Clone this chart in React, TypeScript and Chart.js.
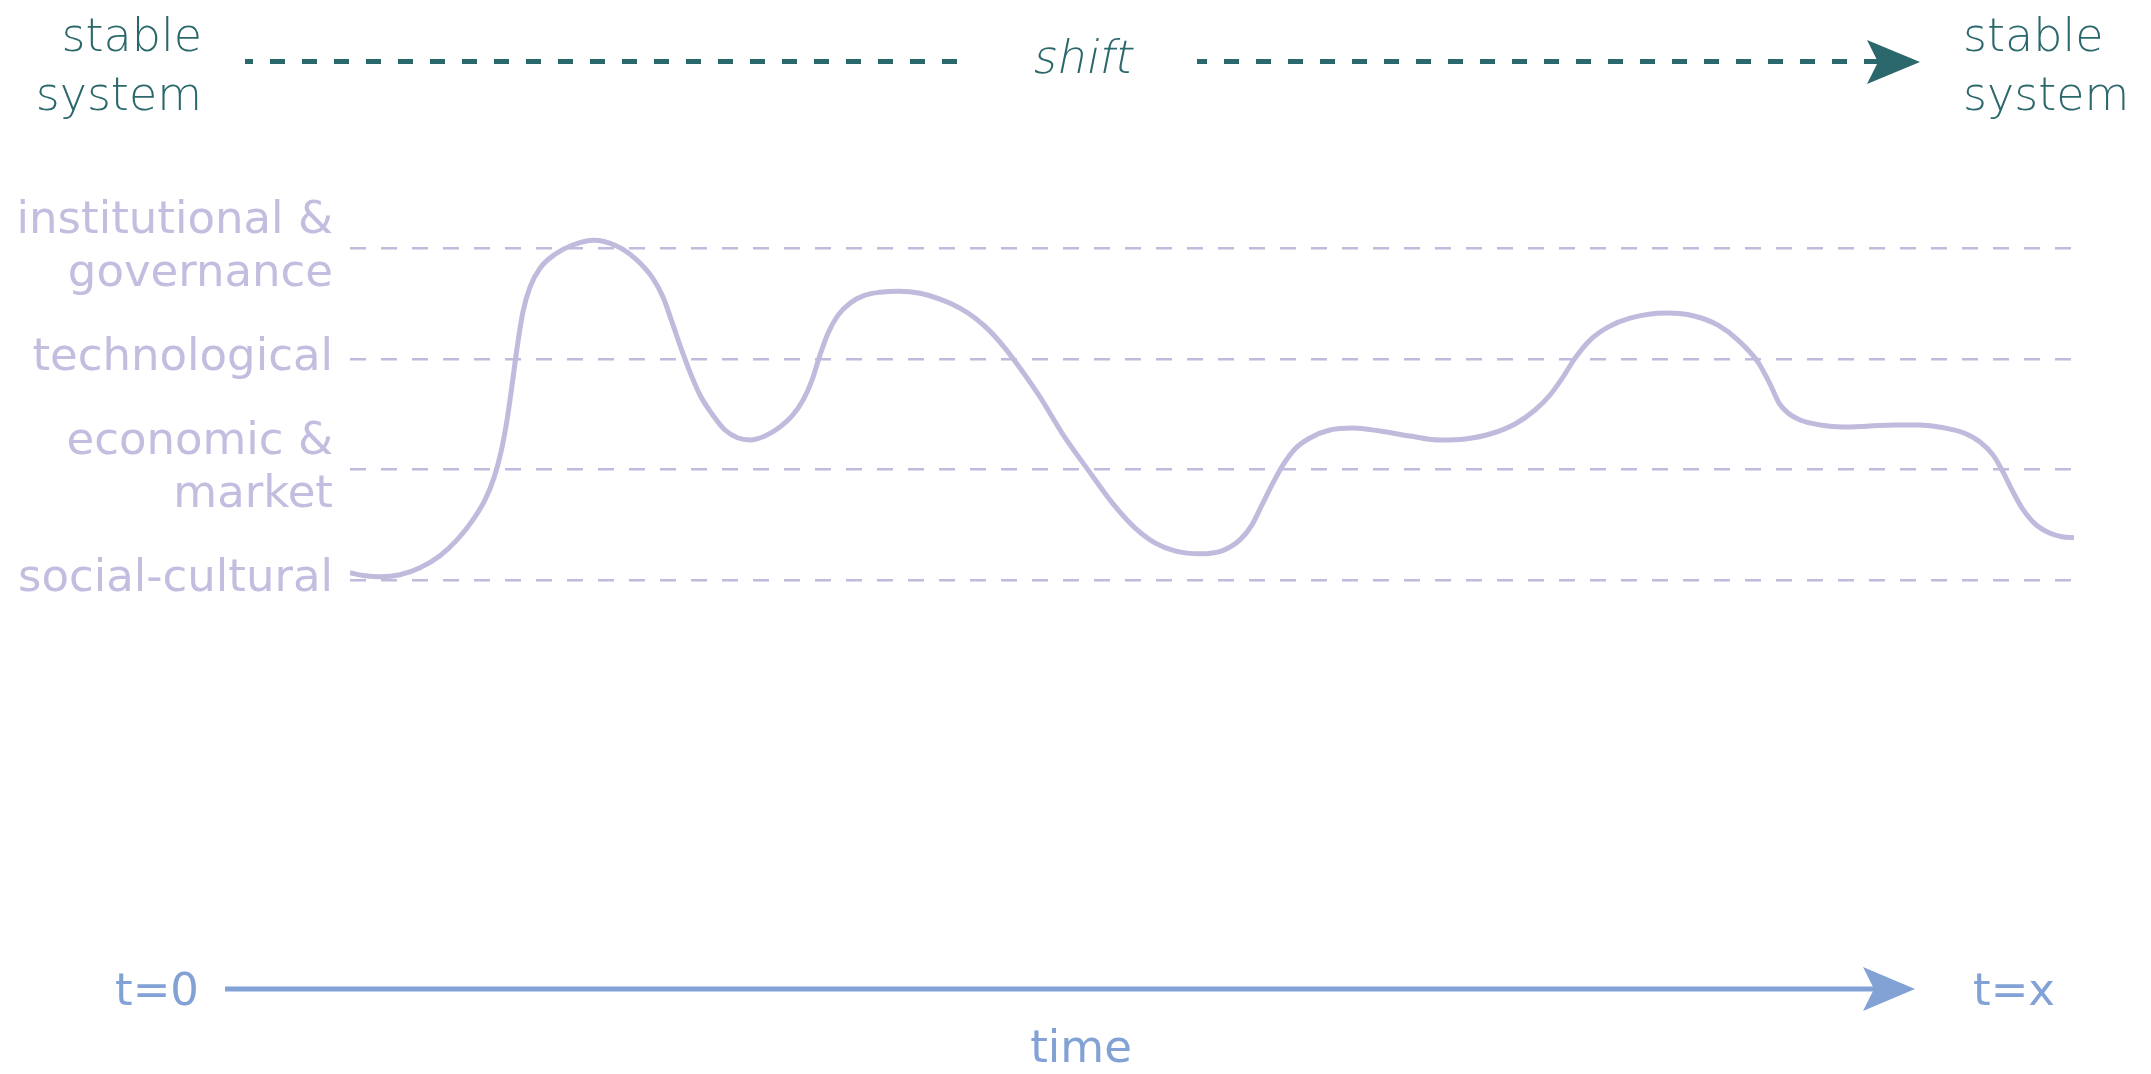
import React, { useEffect, useRef } from "react";
import { Chart, registerables } from "chart.js";

Chart.register(...registerables);

const W = 2151;
const H = 1074;

// y categories (bottom to top)
const levelTicks = [0, 1, 2, 3];
const levelLabels: (string | string[])[] = [
  "social-cultural",
  ["economic &", "market"],
  "technological",
  ["institutional &", "governance"],
];

// time position (0..100) of sampled points along the curve
const timeX = [
  0, 0.87, 1.74, 2.9, 4.06, 5.22, 6.26, 7.13, 7.83, 8.35, 8.76, 9.11, 9.4, 9.69, 10.03, 10.44, 11.02,
  11.89, 12.88, 14.15,
  15.37, 16.53, 17.52, 18.16, 18.68, 19.2, 19.72, 20.3, 21.0, 21.75, 22.51, 23.2, 24.07, 24.94, 25.64,
  26.28, 26.8, 27.26, 27.73, 28.31, 29.0, 29.87, 30.74, 31.84,
  33.06, 34.22, 35.38, 36.25, 37.12, 37.99, 38.86, 40.02, 41.3, 42.81, 44.26, 45.53, 46.69, 47.85, 49.3,
  50.58, 51.62, 52.32, 52.9, 53.48, 54.12, 54.81, 55.68, 56.84, 58.18,
  59.74, 61.48, 63.23, 64.68, 66.13, 67.58, 68.74, 69.61, 70.36, 71.06, 71.93, 72.97, 74.25, 76.39,
  78.02, 79.35, 80.51, 81.67, 82.37, 82.89, 83.41, 84.11, 85.27, 86.6,
  88.17, 89.62, 91.01, 92.52, 93.62, 94.55, 95.3, 95.88, 96.4, 96.98, 97.74, 98.55, 99.3, 100,
];
// level value (0 = social-cultural ... 3 = institutional & governance)
const levelY = [
  0.063, 0.036, 0.027, 0.045, 0.108, 0.217, 0.37, 0.542, 0.723, 0.922, 1.157, 1.446, 1.762, 2.096, 2.422,
  2.648, 2.819, 2.945, 3.027, 3.072,
  3.027, 2.909, 2.738, 2.557, 2.331, 2.096, 1.879, 1.672, 1.5, 1.355, 1.283, 1.265, 1.301, 1.382, 1.482,
  1.626, 1.807, 2.033, 2.232, 2.395, 2.503, 2.575, 2.602, 2.611,
  2.593, 2.539, 2.458, 2.368, 2.25, 2.096, 1.916, 1.654, 1.328, 0.994, 0.687, 0.47, 0.334, 0.262, 0.235,
  0.262, 0.361, 0.497, 0.678, 0.858, 1.039, 1.184, 1.283, 1.355, 1.373,
  1.346, 1.301, 1.265, 1.274, 1.319, 1.41, 1.536, 1.672, 1.834, 2.006, 2.169, 2.286, 2.367, 2.413,
  2.385, 2.304, 2.169, 1.97, 1.771, 1.599, 1.509, 1.446, 1.401, 1.382,
  1.392, 1.401, 1.401, 1.373, 1.328, 1.247, 1.13, 0.976, 0.813, 0.651, 0.506, 0.425, 0.389, 0.38,
];

const topLeftLabel = ["stable", "system"];
const topRightLabel = ["stable", "system"];
const shiftLabel = "shift";
const timeStartLabel = "t=0";
const timeEndLabel = "t=x";
const timeAxisLabel = "time";

const TEAL = "#2b686b";
const LAV = "#c1badd";
const LAV_TEXT = "#c3bde0";
const BLUE = "#82a2d5";

const annotPlugin = {
  id: "annot",
  afterDraw(chart: any) {
    const ctx: CanvasRenderingContext2D = chart.ctx;
    ctx.save();
    // top "stable system" -> shift -> "stable system"
    ctx.fillStyle = TEAL;
    ctx.textBaseline = "alphabetic";
    ctx.font = "200 46px 'DejaVu Sans'";
    ctx.textAlign = "right";
    ctx.fillText(topLeftLabel[0], 202, 51);
    ctx.fillText(topLeftLabel[1], 202, 110);
    ctx.textAlign = "left";
    ctx.fillText(topRightLabel[0], 1963, 51);
    ctx.fillText(topRightLabel[1], 1963, 110);

    // slanted light "shift"
    ctx.save();
    ctx.translate(1081, 73);
    ctx.transform(1, 0, -0.2, 1, 0, 0);
    ctx.textAlign = "center";
    ctx.fillText(shiftLabel, 0, 0);
    ctx.restore();

    ctx.strokeStyle = TEAL;
    ctx.lineWidth = 5;
    ctx.setLineDash([15, 17]);
    ctx.lineDashOffset = 7;
    ctx.beginPath();
    ctx.moveTo(245, 61.5);
    ctx.lineTo(968, 61.5);
    ctx.stroke();
    ctx.lineDashOffset = 5;
    ctx.beginPath();
    ctx.moveTo(1197, 61.5);
    ctx.lineTo(1880, 61.5);
    ctx.stroke();
    ctx.setLineDash([]);
    ctx.beginPath();
    ctx.moveTo(1920, 62);
    ctx.lineTo(1867, 40);
    ctx.lineTo(1878, 62);
    ctx.lineTo(1867, 84);
    ctx.closePath();
    ctx.fill();

    // bottom time arrow
    ctx.strokeStyle = BLUE;
    ctx.fillStyle = BLUE;
    ctx.lineWidth = 5;
    ctx.beginPath();
    ctx.moveTo(225, 989);
    ctx.lineTo(1876, 989);
    ctx.stroke();
    ctx.beginPath();
    ctx.moveTo(1915, 989);
    ctx.lineTo(1863, 967);
    ctx.lineTo(1874, 989);
    ctx.lineTo(1863, 1011);
    ctx.closePath();
    ctx.fill();

    ctx.font = "45px 'DejaVu Sans'";
    ctx.textAlign = "left";
    ctx.fillText(timeStartLabel, 115, 1005);
    ctx.fillText(timeEndLabel, 1973, 1005);
    ctx.textAlign = "center";
    ctx.fillText(timeAxisLabel, 1081, 1062);
    ctx.restore();
  },
};

export default function App() {
  const ref = useRef<HTMLCanvasElement | null>(null);

  useEffect(() => {
    document.body.style.margin = "0";
    document.body.style.overflow = "hidden";
    const canvas = ref.current;
    if (!canvas) return;
    const chart = new Chart(canvas, {
      type: "line",
      data: {
        datasets: [
          {
            data: timeX.map((x, i) => ({ x, y: levelY[i] })),
            borderColor: LAV,
            borderWidth: 5,
            pointRadius: 0,
            fill: false,
            cubicInterpolationMode: "monotone",
            borderCapStyle: "butt",
            borderJoinStyle: "round",
          },
        ],
      },
      options: {
        responsive: false,
        animation: false,
        devicePixelRatio: 1,
        layout: { padding: { left: 0, right: 77, top: 193, bottom: 439 } },
        plugins: { legend: { display: false }, tooltip: { enabled: false } },
        scales: {
          x: { type: "linear", min: 0, max: 100, display: false },
          y: {
            type: "linear",
            min: -0.5,
            max: 3.5,
            afterFit: (s: any) => {
              s.width = 350;
            },
            afterBuildTicks: (s: any) => {
              s.ticks = levelTicks.map((v) => ({ value: v }));
            },
            ticks: {
              autoSkip: false,
              padding: 17,
              color: LAV_TEXT,
              font: { family: "'DejaVu Sans'", size: 45, lineHeight: 1.18 },
              callback: (v: any) => levelLabels[v as number] ?? "",
            },
            grid: { color: LAV, lineWidth: 2.5, drawTicks: false },
            border: { display: false, dash: [16, 15] },
          },
        },
      } as any,
      plugins: [annotPlugin],
    });
    return () => chart.destroy();
  }, []);

  return (
    <div style={{ width: W, height: H, background: "#fff" }}>
      <canvas ref={ref} width={W} height={H} style={{ display: "block", width: W, height: H }} />
    </div>
  );
}
